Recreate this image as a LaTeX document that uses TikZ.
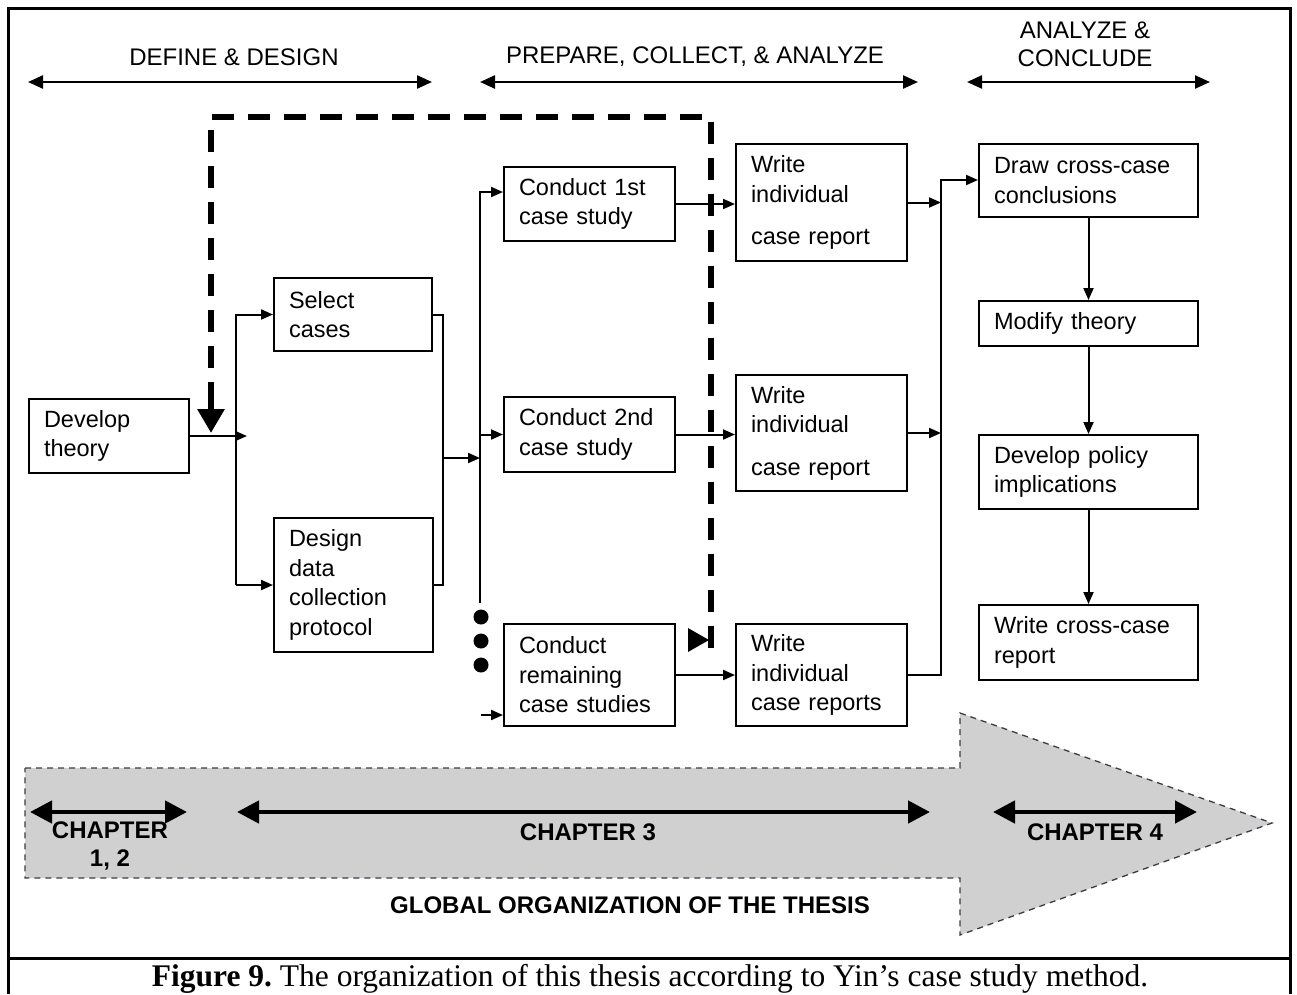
\documentclass[tikz,border=0pt]{standalone}
\usepackage{fontspec}
\setmainfont{Liberation Sans}
\newfontfamily\capfont{Liberation Serif}
\usetikzlibrary{arrows.meta}
\definecolor{arrowgray}{RGB}{208,208,208}
\definecolor{bordergray}{RGB}{60,60,70}
\begin{document}
\frenchspacing
\begin{tikzpicture}[x=1pt,y=-1pt,
  every node/.style={font=\fontsize{24}{29.5}\selectfont, inner sep=0pt},
  box/.style n args={3}{draw, line width=2pt, minimum width=#1pt, minimum height=#2pt,
     text width=#3pt, inner xsep=15pt, inner ysep=0pt, align=left, anchor=north west,
     font=\fontsize{23.5}{29.5}\selectfont},
  ln/.style={line width=2pt},
  arr/.style={line width=2pt, -{Triangle[length=12pt,width=10pt]}},
  hdr/.style={line width=2.4pt, {Triangle[length=15pt,width=13pt]}-{Triangle[length=15pt,width=13pt]}},
  chap/.style={line width=4.5pt, {Triangle[length=22pt,width=22pt]}-{Triangle[length=22pt,width=22pt]}},
  chaptext/.style={font=\bfseries\fontsize{24}{28}\selectfont, align=center},
  feedback/.style={line width=6pt, dash pattern=on 22pt off 14pt},
  feedtip/.style={line width=6pt, -{Triangle[length=24pt,width=26pt]}},
  dotc/.style={circle, fill=black, minimum size=15pt},
  bigarrow/.style={fill=arrowgray, draw=bordergray, line width=1.3pt, dash pattern=on 6pt off 5pt},
  frame/.style={line width=3pt}
]
\useasboundingbox (0,0) rectangle (1297,994);
\fill[white] (0,0) rectangle (1297,994);

% outer frame
\draw[frame] (8,994) -- (8,8) -- (1290,8) -- (1290,994);
\draw[frame] (8,958) -- (1290,958);

% big gray arrow
\path[bigarrow] (25,768) -- (960,768) -- (960,713) -- (1272,823) -- (960,935) -- (960,878) -- (25,878) -- cycle;

% chapter arrows
\coordinate (c1a) at (30,812);  \coordinate (c1b) at (187,812);
\coordinate (c3a) at (237,812); \coordinate (c3b) at (930,812);
\coordinate (c4a) at (993,812); \coordinate (c4b) at (1197,812);
\draw[chap] (c1a) -- (c1b);
\draw[chap] (c3a) -- (c3b);
\draw[chap] (c4a) -- (c4b);
\node[chaptext] (ch12) at (110,846) {CHAPTER\\1, 2};
\node[chaptext] (ch3) at (588,832) {CHAPTER 3};
\node[chaptext] (ch4) at (1095,832) {CHAPTER 4};
\node[chaptext] (glob) at (630,905) {GLOBAL ORGANIZATION OF THE THESIS};

% header
\node (h1) at (234,57) {DEFINE \& DESIGN};
\node (h2) at (695,57) {PREPARE, COLLECT, \& ANALYZE};
\node[align=center, font=\fontsize{24}{28}\selectfont] (h3) at (1085,44) {ANALYZE \&\\CONCLUDE};
\coordinate (h1a) at (28,82);  \coordinate (h1b) at (432,82);
\coordinate (h2a) at (480,82); \coordinate (h2b) at (918,82);
\coordinate (h3a) at (967,82); \coordinate (h3b) at (1210,82);
\draw[hdr] (h1a) -- (h1b);
\draw[hdr] (h2a) -- (h2b);
\draw[hdr] (h3a) -- (h3b);

% boxes
\node[box={160}{74}{130}] (dt) at (28,398) {Develop\\theory};
\node[box={158}{73}{128}] (sc) at (273,277) {Select\\cases};
\node[box={159}{134}{129}] (dc) at (273,517) {Design\\data\\collection\\protocol};
\node[box={171}{74}{141}] (c1) at (503,166) {Conduct 1st\\case study};
\node[box={171}{75}{141}] (c2) at (503,396) {Conduct 2nd\\case study};
\node[box={171}{102}{141}] (cr) at (503,623) {Conduct\\remaining\\case studies};
\node[box={171}{117}{141}] (w1) at (735,143) {Write\\individual\\[13pt]case report};
\node[box={171}{116}{141}] (w2) at (735,374) {Write\\individual\\[13pt]case report};
\node[box={171}{102}{141}] (w3) at (735,623) {Write\\individual\\case reports};
\node[box={219}{73}{189}] (dr) at (978,143) {Draw cross-case\\conclusions};
\node[box={219}{45}{189}] (mt) at (978,300) {Modify theory};
\node[box={219}{74}{189}] (dp) at (978,434) {Develop policy\\implications};
\node[box={219}{75}{189}] (wc) at (978,604) {Write cross-case\\report};

% connectors: define & design
\coordinate (jA) at (236,435);
\coordinate (jAe) at (247,435);
\draw[arr] (dt.east) -- (dt.east -| jAe);
\draw[arr] (jA |- dc.west) -- (jA |- sc.west) -- (sc.west);
\draw[arr] (jA |- dc.west) -- (dc.west);

\coordinate (jB) at (443,458);
\coordinate (bus) at (480,458);
\draw[ln] (sc.east) -- (sc.east -| jB) -- (jB |- dc.east) -- (dc.east);
\draw[arr] (jB) -- (bus);

% bus to case studies
\coordinate (busTop) at (480,192);
\coordinate (busBot) at (480,603);
\draw[arr] (busBot) -- (busTop) -- (busTop -| c1.west);
\draw[arr] (bus |- c2.west) -- (c2.west);
\node[dotc] (d1) at (481,617) {};
\node[dotc] (d2) at (481,641) {};
\node[dotc] (d3) at (481,665) {};
\coordinate (stub) at (481,715);
\draw[arr] (stub) -- (stub -| cr.west);

\draw[arr] (c1.east) -- (c1.east -| w1.west);
\draw[arr] (c2.east) -- (c2.east -| w2.west);
\draw[arr] (cr.east) -- (cr.east -| w3.west);

% to conclusions
\coordinate (rb) at (941,180);
\draw[arr] (w1.east) -- (w1.east -| rb);
\draw[arr] (w2.east) -- (w2.east -| rb);
\draw[arr] (w3.east) -- (w3.east -| rb) -- (rb) -- (rb -| dr.west);

\draw[arr] (dr.south) -- (mt.north);
\draw[arr] (mt.south) -- (dp.north);
\draw[arr] (dp.south) -- (wc.north);

% feedback dashed loop
\coordinate (lpS) at (711,648);
\coordinate (lpT) at (711,117);
\coordinate (lpE) at (211,433);
\draw[feedback] (lpS) -- (lpT) -- (lpT -| lpE) -- ([yshift=22pt]lpE);
\draw[feedtip] ([yshift=40pt]lpE) -- (lpE);
\fill (688,628) -- (709,640) -- (688,652) -- cycle;

% caption
\node[anchor=base, font=\capfont\fontsize{31.5}{36}\selectfont] (cap) at (650,986)
  {\textbf{Figure 9.} The organization of this thesis according to Yin’s case study method.};
\end{tikzpicture}
\end{document}
